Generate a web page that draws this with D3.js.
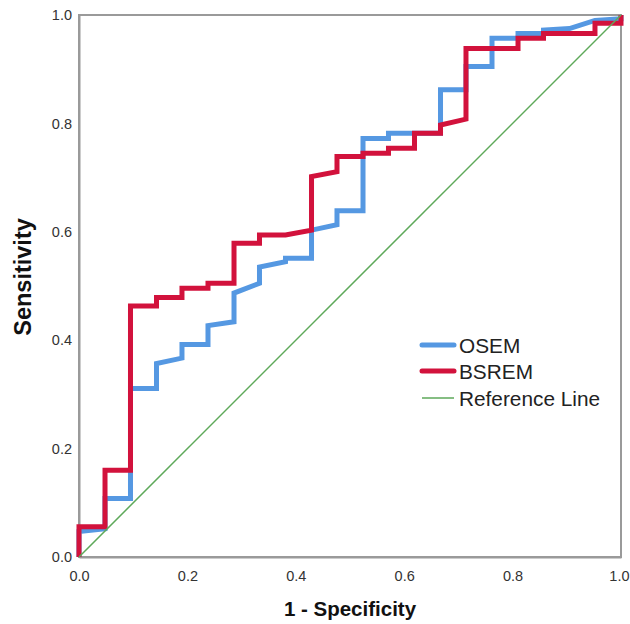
<!DOCTYPE html>
<html>
<head>
<meta charset="utf-8">
<script src="https://cdn.jsdelivr.net/npm/d3@7"></script>
<style>
  html, body { margin: 0; padding: 0; background: #fff; }
  svg { display: block; font-family: "Liberation Sans", Arial, sans-serif; }
</style>
</head>
<body>
<svg id="chart" width="630" height="624"></svg>
<script>
// ---- data ----
const osemX = [0, 0, 0.048, 0.048, 0.095, 0.095, 0.143, 0.143, 0.190, 0.190, 0.238, 0.238, 0.286, 0.286, 0.333, 0.333, 0.381, 0.381, 0.429, 0.429, 0.476, 0.476, 0.524, 0.524, 0.571, 0.571, 0.667, 0.667, 0.714, 0.714, 0.762, 0.762, 0.810, 0.810, 0.857, 0.857, 0.905, 0.952, 1, 1];
const osemY = [0, 0.047, 0.052, 0.108, 0.108, 0.311, 0.311, 0.357, 0.367, 0.392, 0.392, 0.427, 0.434, 0.487, 0.505, 0.535, 0.545, 0.551, 0.551, 0.603, 0.613, 0.639, 0.639, 0.772, 0.772, 0.782, 0.782, 0.862, 0.862, 0.905, 0.905, 0.957, 0.957, 0.966, 0.966, 0.972, 0.975, 0.990, 0.993, 1];

const bsremX = [0, 0, 0.048, 0.048, 0.095, 0.095, 0.143, 0.143, 0.190, 0.190, 0.238, 0.238, 0.286, 0.286, 0.333, 0.333, 0.381, 0.429, 0.429, 0.476, 0.476, 0.524, 0.524, 0.571, 0.571, 0.619, 0.619, 0.667, 0.667, 0.714, 0.714, 0.810, 0.810, 0.857, 0.857, 0.952, 0.952, 1, 1];
const bsremY = [0, 0.056, 0.056, 0.160, 0.160, 0.463, 0.463, 0.479, 0.479, 0.496, 0.496, 0.505, 0.505, 0.579, 0.579, 0.594, 0.594, 0.603, 0.702, 0.711, 0.739, 0.739, 0.745, 0.745, 0.754, 0.754, 0.782, 0.782, 0.797, 0.808, 0.938, 0.938, 0.957, 0.957, 0.966, 0.966, 0.985, 0.985, 1];

const refX = [0, 1];
const refY = [0, 1];

const tickValues = [0, 0.2, 0.4, 0.6, 0.8, 1.0];
const seriesNames = ["OSEM", "BSREM", "Reference Line"];
const seriesColors = ["#5598e2", "#d2123c", "#5ea95a"];
const seriesWidths = [5, 5, 1.5];

// ---- layout ----
const svg = d3.select("#chart");
const L = 79, R = 621, T = 15, B = 557;
const x = d3.scaleLinear().domain([0, 1]).range([L, R]);
const y = d3.scaleLinear().domain([0, 1]).range([B, T]);

// frame (top & right)
svg.append("rect")
  .attr("x", L).attr("y", T).attr("width", R - L).attr("height", B - T)
  .attr("fill", "none").attr("stroke", "#9a9a9a").attr("stroke-width", 2);

// axes
const xAxis = d3.axisBottom(x).tickValues(tickValues).tickFormat(d3.format(".1f")).tickSize(0).tickPadding(14);
const yAxis = d3.axisLeft(y).tickValues(tickValues).tickFormat(d3.format(".1f")).tickSize(0).tickPadding(7);

const gx = svg.append("g").attr("transform", `translate(0,${B})`).call(xAxis);
const gy = svg.append("g").attr("transform", `translate(${L},0)`).call(yAxis);
[gx, gy].forEach(g => {
  g.select(".domain").attr("stroke", "#9a9a9a").attr("stroke-width", 2);
  g.selectAll("text").attr("font-size", 14.5).attr("fill", "#333")
    .attr("font-family", "'Liberation Sans', Arial, sans-serif");
});
// keep the last x label inside the 630px window (as in the reference)
gx.selectAll(".tick text").filter(d => d === 1).attr("text-anchor", "end").attr("dx", 8);

// series
const line = d3.line().x(d => x(d[0])).y(d => y(d[1]));
const series = [
  d3.zip(osemX, osemY),
  d3.zip(bsremX, bsremY),
  d3.zip(refX, refY)
];
[0, 1, 2].forEach(i => {
  svg.append("path")
    .datum(series[i])
    .attr("d", line)
    .attr("fill", "none")
    .attr("stroke", seriesColors[i])
    .attr("stroke-width", seriesWidths[i])
    .attr("stroke-linejoin", "miter")
    .attr("stroke-linecap", "butt");
});

// legend
const legY = [345, 371, 398];
seriesNames.forEach((name, i) => {
  svg.append("line")
    .attr("x1", 422).attr("x2", 454)
    .attr("y1", legY[i]).attr("y2", legY[i])
    .attr("stroke", seriesColors[i])
    .attr("stroke-width", seriesWidths[i])
    .attr("stroke-linecap", i < 2 ? "round" : "butt");
  svg.append("text")
    .attr("x", 459).attr("y", legY[i] + 7.5)
    .attr("font-size", 20.8).attr("fill", "#222")
    .text(name);
});

// axis titles
svg.append("text")
  .attr("x", (L + R) / 2).attr("y", 616)
  .attr("text-anchor", "middle")
  .attr("font-size", 20.5).attr("font-weight", "bold").attr("fill", "#111")
  .text("1 - Specificity");

svg.append("text")
  .attr("transform", "translate(31,277) rotate(-90)")
  .attr("text-anchor", "middle")
  .attr("font-size", 23.5).attr("font-weight", "bold").attr("fill", "#111")
  .text("Sensitivity");
</script>
</body>
</html>
